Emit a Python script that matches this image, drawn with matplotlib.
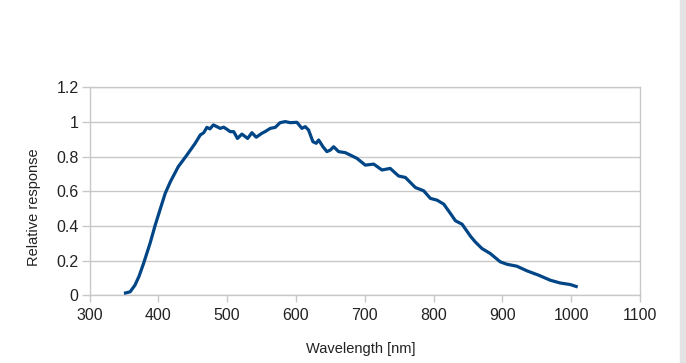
import matplotlib
matplotlib.use("Agg")
import matplotlib.pyplot as plt
from matplotlib.patches import Rectangle

wavelength = [350, 352, 359, 366, 372, 378.5, 388, 395.5, 403, 410, 417.5, 429, 441.5,
              453.6, 461, 466, 470.6, 475, 480, 485, 490, 495, 500, 504.5, 509.6, 515,
              521.5, 529.8, 536, 542.3, 550.6, 555, 562.7, 570, 577, 584.5, 591.7, 601.4,
              608.7, 613.5, 618.3, 624.7, 629.5, 633, 639.3, 645, 650, 654.8, 662, 671.7,
              679, 688.7, 700.8, 713, 725, 737, 749.3, 759, 773.5, 785.6, 795.4, 805,
              814.8, 824.5, 831.8, 841.5, 853.6, 860.6, 870.3, 882.4, 897, 906.7, 921,
              935.8, 952.7, 969.6, 984, 998.7, 1009.5]
response = [0.012, 0.013, 0.02, 0.058, 0.11, 0.183, 0.30, 0.405, 0.50, 0.588, 0.655,
            0.742, 0.809, 0.877, 0.925, 0.938, 0.969, 0.96, 0.983, 0.973, 0.963, 0.97,
            0.957, 0.944, 0.944, 0.905, 0.93, 0.905, 0.938, 0.912, 0.935, 0.944, 0.963,
            0.969, 0.996, 1.002, 0.996, 0.998, 0.963, 0.973, 0.954, 0.886, 0.877, 0.896,
            0.857, 0.829, 0.838, 0.857, 0.829, 0.823, 0.809, 0.790, 0.751, 0.757, 0.723,
            0.732, 0.688, 0.680, 0.622, 0.603, 0.559, 0.549, 0.526, 0.472, 0.43, 0.41,
            0.341, 0.308, 0.27, 0.241, 0.193, 0.179, 0.168, 0.141, 0.116, 0.087, 0.071,
            0.062, 0.048]

x_ticks = [300, 400, 500, 600, 700, 800, 900, 1000, 1100]
y_ticks = [0, 0.2, 0.4, 0.6, 0.8, 1, 1.2]
y_tick_labels = ["0", "0.2", "0.4", "0.6", "0.8", "1", "1.2"]

plt.rcParams['font.family'] = ['Liberation Sans Narrow', 'Liberation Sans', 'DejaVu Sans']

fig = plt.figure(figsize=(6.86, 3.63), dpi=100)
fig.patches.append(Rectangle((680/686, 0), 6/686, 1, transform=fig.transFigure,
                             color='#e3e3e3', zorder=0))
ax = fig.add_axes([89.5/686, 1 - 295.3/363, (640 - 89.5)/686, (295.3 - 87.3)/363])

grid_c = '#c8c8c8'
ax.plot(wavelength, response, color='#004586', lw=2.3, solid_joinstyle='round',
        solid_capstyle='butt', zorder=3)
ax.set_xlim(300, 1100)
ax.set_ylim(0, 1.2)
ax.set_xticks(x_ticks)
ax.set_yticks(y_ticks)
ax.set_yticklabels(y_tick_labels)
ax.yaxis.grid(True, color=grid_c, lw=1)
ax.set_axisbelow(True)
for s in ax.spines.values():
    s.set_color(grid_c)
    s.set_linewidth(1)
ax.tick_params(axis='both', colors=grid_c, labelcolor='#222222', labelsize=11.5,
               length=6, width=1, direction='out')
ax.tick_params(axis='x', length=5, pad=4)
ax.tick_params(axis='y', pad=2)
ax.set_xlabel('Wavelength [nm]', fontsize=10.5, color='#222222')
ax.set_ylabel('Relative response', fontsize=10.5, color='#222222')
ax.xaxis.set_label_coords(0.493, -0.226)
ax.yaxis.set_label_coords(-0.088, 0.4245)

fig.savefig('out.png', dpi=100)
